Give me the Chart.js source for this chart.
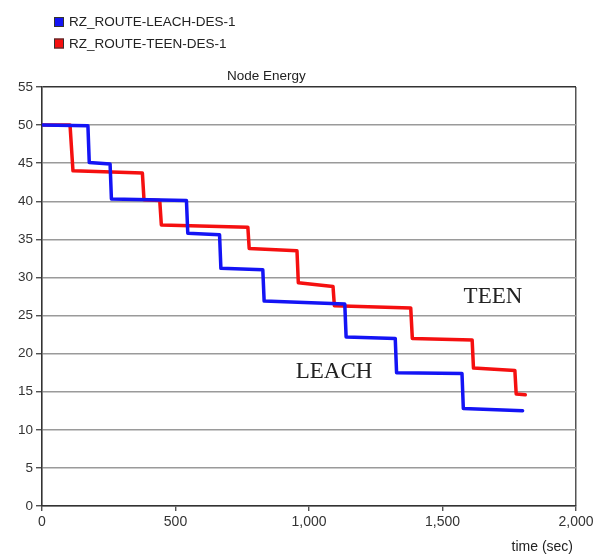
<!DOCTYPE html>
<html>
<head>
<meta charset="utf-8">
<script src="https://cdn.jsdelivr.net/npm/chart.js@4/dist/chart.umd.min.js"></script>
<style>
  html, body { margin: 0; padding: 0; background: #ffffff; }
  #wrap { width: 598px; height: 557px; position: relative; }
</style>
</head>
<body>
<div id="wrap"><canvas id="c" width="598" height="557"></canvas></div>
<script>
// ---- data ----
const seriesNames = ['RZ_ROUTE-LEACH-DES-1', 'RZ_ROUTE-TEEN-DES-1'];
const leachTime   = [0, 172, 177, 255, 260, 541, 546, 665, 670, 827, 832, 1134, 1139, 1323, 1328, 1573, 1578, 1800];
const leachEnergy = [50, 49.9, 45.1, 44.9, 40.3, 40.1, 35.8, 35.6, 31.2, 31.0, 26.9, 26.5, 22.2, 22.0, 17.5, 17.4, 12.8, 12.5];
const teenTime    = [0, 105, 116, 376, 382, 441, 447, 771, 776, 955, 960, 1090, 1095, 1381, 1387, 1611, 1616, 1771, 1776, 1810];
const teenEnergy  = [50, 50, 44.0, 43.7, 40.2, 40.1, 36.9, 36.6, 33.8, 33.5, 29.3, 28.8, 26.3, 26.0, 22.0, 21.8, 18.1, 17.8, 14.7, 14.6];
const yTicks = [0, 5, 10, 15, 20, 25, 30, 35, 40, 45, 50, 55];
const xTicks = [0, 500, 1000, 1500, 2000];
const chartTitle = 'Node Energy';
const xAxisTitle = 'time (sec)';
const noteLabels = ['TEEN', 'LEACH'];
const noteTime   = [1689, 1094];
const noteEnergy = [27.4, 17.6];

const toPoints = (xs, ys) => xs.map((x, i) => ({ x: x, y: ys[i] }));
const colors = ['#1414f5', '#f51010'];

const overlay = {
  id: 'overlay',
  afterDraw(chart) {
    const ctx = chart.ctx;
    const ca = chart.chartArea;
    const xs = chart.scales.x, ys = chart.scales.y;
    ctx.save();
    // legend
    ctx.font = '13.5px "Liberation Sans", Arial, sans-serif';
    ctx.textBaseline = 'middle';
    ctx.textAlign = 'left';
    chart.data.datasets.forEach((ds, i) => {
      const cy = 22 + i * 21.5;
      ctx.fillStyle = ds.borderColor;
      ctx.fillRect(54, cy - 5, 10, 10);
      ctx.strokeStyle = '#333';
      ctx.lineWidth = 1;
      ctx.strokeRect(54.5, cy - 4.5, 9, 9);
      ctx.fillStyle = '#222';
      ctx.fillText(ds.label, 69, cy + 0.5);
    });
    // title
    ctx.textAlign = 'center';
    ctx.fillStyle = '#222';
    ctx.font = '13.5px "Liberation Sans", Arial, sans-serif';
    ctx.fillText(chartTitle, ca.left + 0.42 * (ca.right - ca.left), ca.top - 11);
    // x axis title
    ctx.textAlign = 'right';
    ctx.font = '14px "Liberation Sans", Arial, sans-serif';
    ctx.fillText(xAxisTitle, ca.right - 3, ca.bottom + 41);
    // annotations
    ctx.font = '23px "Liberation Serif", "Times New Roman", serif';
    ctx.textAlign = 'center';
    ctx.fillStyle = '#222';
    noteLabels.forEach((t, i) => {
      ctx.fillText(t, xs.getPixelForValue(noteTime[i]), ys.getPixelForValue(noteEnergy[i]));
    });
    ctx.restore();
  }
};

new Chart(document.getElementById('c'), {
  type: 'line',
  data: {
    datasets: [
      { label: seriesNames[0], data: toPoints(leachTime, leachEnergy), borderColor: colors[0], backgroundColor: colors[0],
        borderWidth: 3.5, pointRadius: 0, tension: 0, fill: false, borderJoinStyle: 'round', borderCapStyle: 'round' },
      { label: seriesNames[1], data: toPoints(teenTime, teenEnergy), borderColor: colors[1], backgroundColor: colors[1],
        borderWidth: 3.5, pointRadius: 0, tension: 0, fill: false, borderJoinStyle: 'round', borderCapStyle: 'round' }
    ]
  },
  options: {
    responsive: false,
    animation: false,
    devicePixelRatio: 1,
    layout: { padding: { top: 87, right: 22, left: 0, bottom: 0 } },
    plugins: { legend: { display: false }, title: { display: false }, tooltip: { enabled: false } },
    scales: {
      x: {
        type: 'linear', min: 0, max: 2000,
        afterBuildTicks: s => { s.ticks = xTicks.map(v => ({ value: v })); },
        afterFit: s => { s.height = 51; },
        ticks: {
          color: '#333', padding: 3, maxRotation: 0,
          font: { family: '"Liberation Sans", Arial, sans-serif', size: 14 },
          callback: v => v.toLocaleString('en-US')
        },
        grid: {
          color: ctx => (ctx.tick && ctx.tick.value === 2000) ? '#555' : 'rgba(0,0,0,0)',
          lineWidth: 1.5, tickLength: 5, tickColor: '#333', tickWidth: 1.2
        },
        border: { color: '#333', width: 1.6 }
      },
      y: {
        type: 'linear', min: 0, max: 55,
        afterBuildTicks: s => { s.ticks = yTicks.map(v => ({ value: v })); },
        afterFit: s => { s.width = 42; },
        ticks: {
          color: '#333', padding: 3,
          font: { family: '"Liberation Sans", Arial, sans-serif', size: 13.5 }
        },
        grid: {
          color: ctx => (ctx.tick && ctx.tick.value === 55) ? '#333' : '#9a9a9a',
          lineWidth: 1.5, tickLength: 6, tickColor: '#333', tickWidth: 1.2
        },
        border: { color: '#333', width: 1.6 }
      }
    }
  },
  plugins: [overlay]
});
</script>
</body>
</html>
